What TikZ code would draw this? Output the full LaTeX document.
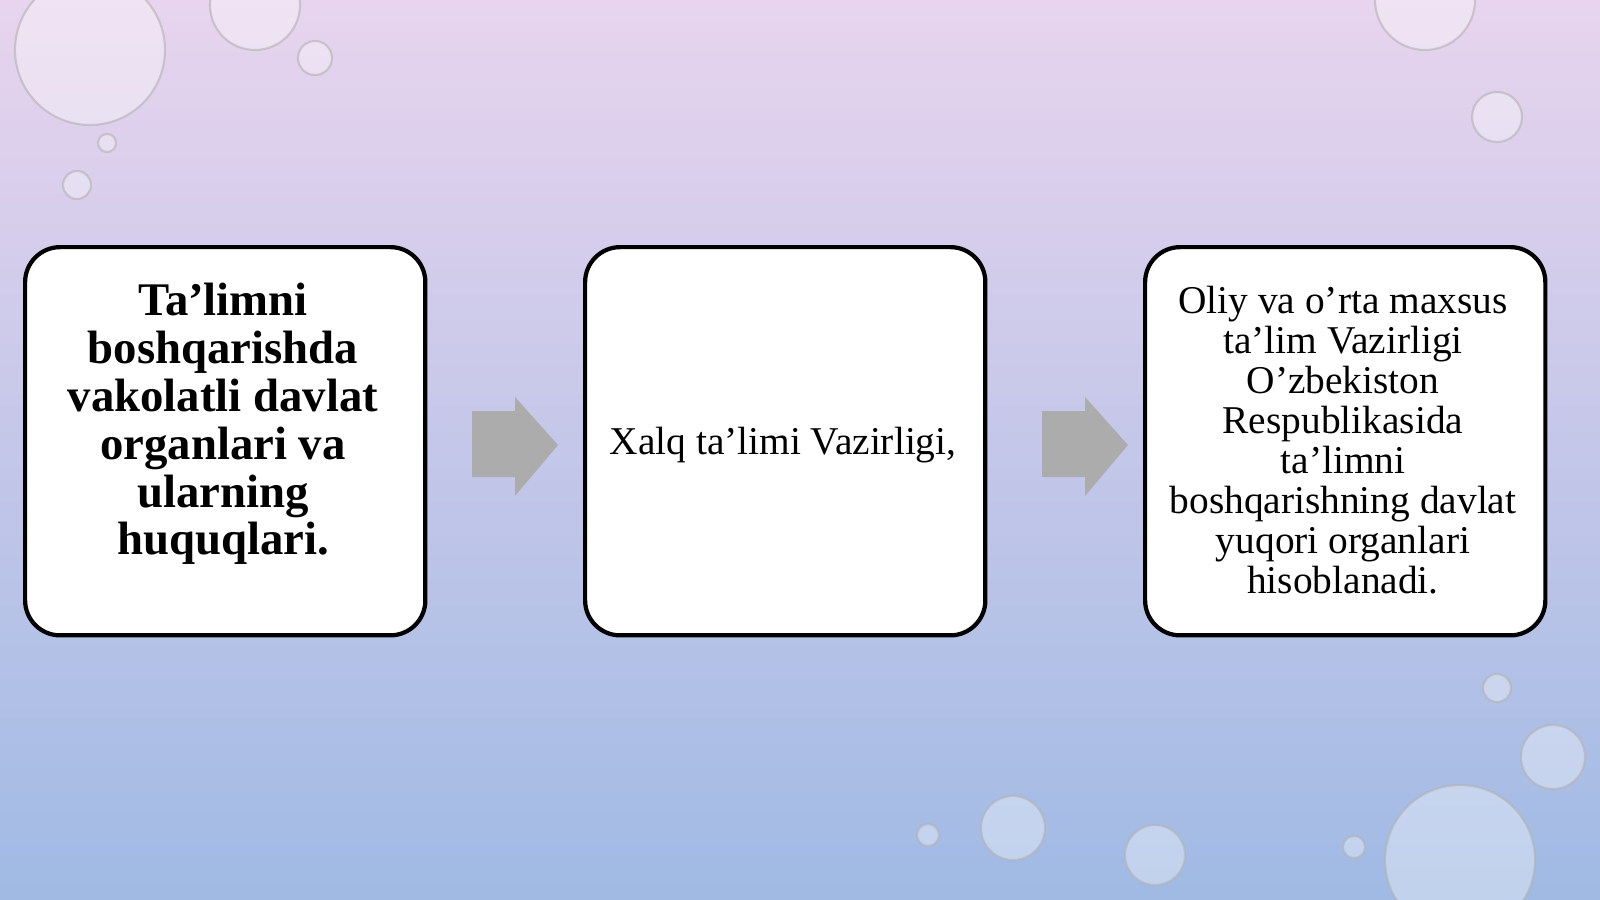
\documentclass[tikz,border=0pt]{standalone}
\usepackage{fontspec}
\setmainfont{Liberation Serif}
\begin{document}
\begin{tikzpicture}[x=0.01cm,y=-0.01cm,
  box/.style={draw=black,line width=1.2pt,fill=white,rounded corners=0.35cm,minimum width=4cm,minimum height=3.88cm,align=center,anchor=north west,inner sep=0pt},
  bub/.style={fill=white,fill opacity=0.35,draw=gray!60,draw opacity=0.6,line width=0.6pt},
  arr/.style={fill=gray!65,draw=none}]
\shade[top color={rgb,255:red,232;green,212;blue,238},middle color={rgb,255:red,246;green,244;blue,252},bottom color={rgb,255:red,160;green,186;blue,228}] (0,0) rectangle (1600,899);
\useasboundingbox (0,0) rectangle (1600,899);
% bubbles
\foreach \x/\y/\r in {90/50/75,255/5/45,315/58/17,107/143/9,77/185/14,1425/0/50,1497/117/25,1497/688/14,1553/757/32,1013/828/32,1155/855/30,928/835/11,1354/847/11,1460/860/75}
  \path[bub] (\x,\y) circle (\r);
\node[box] (a) at (23,245) {};
\node[box] (b) at (583,245) {};
\node[box] (c) at (1143,245) {};
\node[align=center,font=\fontsize{13.3}{13.6}\selectfont\bfseries] (ta) at (223,424) {Ta’limni\\boshqarishda\\vakolatli davlat\\organlari va\\ularning\\huquqlari.};
\node[align=center,font=\fontsize{11.2}{11.5}\selectfont] (tb) at (783,445) {Xalq ta’limi Vazirligi,};
\node[align=center,font=\fontsize{11.2}{11.4}\selectfont] (tc) at (1343,440) {Oliy va o’rta maxsus\\ta’lim Vazirligi\\O’zbekiston\\Respublikasida\\ta’limni\\boshqarishning davlat\\yuqori organlari\\hisoblanadi.};
\path[arr] (472,411) -- (515,411) -- (515,397) -- (558,445) -- (515,496) -- (515,477) -- (472,477) -- cycle;
\path[arr] (1042,411) -- (1085,411) -- (1085,397) -- (1128,445) -- (1085,496) -- (1085,477) -- (1042,477) -- cycle;
\end{tikzpicture}
\end{document}
